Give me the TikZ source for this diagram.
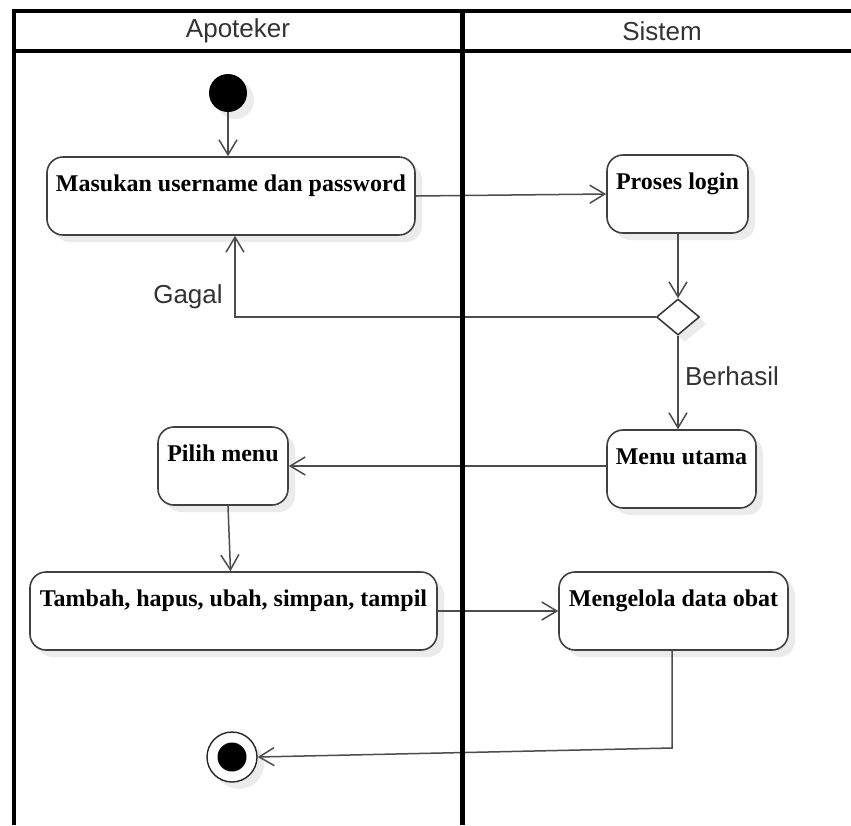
\documentclass[tikz,border=0pt]{standalone}
\usepackage{fontspec}
\setmainfont{Liberation Serif}
\newfontfamily\lanefont{Liberation Sans}
\usetikzlibrary{arrows.meta,shapes.geometric,shadows}

\tikzset{
  softshadow/.style={drop shadow={shadow xshift=7pt, shadow yshift=-7pt, fill=black, opacity=0.08}},
  frameline/.style={line width=3.5pt, black},
  dividerline/.style={line width=5pt, black},
  lanetitle/.style={font=\lanefont\fontsize{26}{30}\selectfont, text=black!80, inner sep=0pt},
  guard/.style={font=\lanefont\fontsize{26}{30}\selectfont, text=black!80, inner sep=0pt},
  actbox/.style={draw=black!75, line width=1.6pt, rounded corners=16pt, fill=white,
    softshadow, font=\bfseries\fontsize{24}{28}\selectfont,
    inner xsep=3pt, inner ysep=8pt, text height=26pt, text depth=36pt},
  initstate/.style={circle, fill=black, minimum size=38pt, inner sep=0pt, softshadow},
  finalstate/.style={circle, draw=black!85, line width=1.4pt, fill=white, minimum size=50pt,
    inner sep=0pt, softshadow,
    path picture={\fill[black] (path picture bounding box.center) circle (14.5pt);}},
  choice/.style={diamond, draw=black!80, line width=1.5pt, fill=white, aspect=1.2,
    minimum width=43pt, minimum height=36pt, inner sep=0pt, softshadow},
  flow/.style={draw=black!70, line width=1.5pt,
    -{Straight Barb[length=15pt, width=18pt, line width=1.5pt]}}
}

\begin{document}
\begin{tikzpicture}[x=1pt, y=-1pt]
\useasboundingbox (0,0) rectangle (851,825);
\fill[white] (0,0) rectangle (851,825);

% lane titles
\node[lanetitle] (tApoteker) at (238,31) {Apoteker};
\node[lanetitle] (tSistem) at (662,31) {Sistem};

% states and actions
\node[initstate] (start) at (228,93) {};
\node[actbox, minimum width=368pt] (b1) at (231,196) {Masukan username dan password};
\node[actbox, minimum width=141pt] (b2) at (677.5,194) {Proses login};
\node[choice] (dec) at (678,317) {};
\node[actbox, minimum width=149pt] (b3) at (681.5,469) {Menu utama};
\node[actbox, minimum width=130pt] (b4) at (223,466) {Pilih menu};
\node[actbox, minimum width=407pt] (b5) at (233.5,611) {Tambah, hapus, ubah, simpan, tampil};
\node[actbox, minimum width=229pt] (b6) at (673.5,611) {Mengelola data obat};
\node[finalstate] (endst) at (232,757) {};

% control flow
\draw[flow] (start.south) -- (start.south |- b1.north);
\draw[flow] (b1.east) -- (b2.west);
\draw[flow] (b2.south -| dec.north) -- (dec.north);
\draw[flow] (dec.west) -| ([xshift=4pt]b1.south);
\node[guard] (lGagal) at (188,297) {Gagal};
\draw[flow] (dec.south) -- (dec.south |- b3.north);
\node[guard] (lBerhasil) at (732,376) {Berhasil};
\draw[flow] (b4.east -| b3.west) -- (b4.east);
\draw[flow] ([xshift=5pt]b4.south) -- ([xshift=-3pt]b5.north);
\draw[flow] (b5.east) -- (b6.west);
\coordinate (turn) at (672,748);
\draw[flow] ([xshift=-1.5pt]b6.south) -- (turn) -- (endst.east);

% swimlane frame
\draw[frameline] (13,11) -- (851,11);
\draw[frameline] (13,51) -- (851,51);
\draw[frameline] (14,9.25) -- (14,825);
\draw[dividerline] (462,9.25) -- (462,825);
\end{tikzpicture}
\end{document}
